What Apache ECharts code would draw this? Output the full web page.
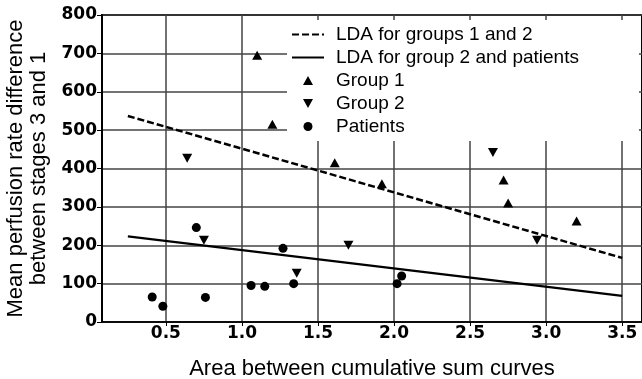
<!DOCTYPE html>
<html>
<head>
<meta charset="utf-8">
<script src="https://cdn.jsdelivr.net/npm/echarts@6/dist/echarts.min.js"></script>
<style>
html, body { margin: 0; padding: 0; background: #fff; }
#chart { width: 642px; height: 379px; }
</style>
</head>
<body>
<div id="chart"></div>
<script>
var xTicks = [0.5, 1.0, 1.5, 2.0, 2.5, 3.0, 3.5];
var ldaGroups12 = [[0.25, 537], [3.5, 167]];
var ldaGroup2Patients = [[0.25, 223], [3.5, 68]];
var group1 = [[1.10, 695], [1.20, 515], [1.61, 415], [1.92, 360], [2.72, 370], [2.75, 310], [3.20, 263]];
var group2 = [[0.64, 427], [0.75, 213], [1.36, 127], [1.70, 200], [2.65, 442], [2.94, 213]];
var patients = [[0.41, 65], [0.48, 41], [0.70, 246], [0.76, 64], [1.06, 95], [1.15, 93], [1.27, 192], [1.34, 100], [2.02, 100], [2.05, 120]];

var upTri = 'path://M5,0L10,9L0,9Z';
var downTri = 'path://M0,0L10,0L5,9Z';

var myChart = echarts.init(document.getElementById('chart'));

var option = {
    animation: false,
    grid: {
        left: 102,
        right: 0,
        top: 15,
        bottom: 57,
        outerBoundsMode: 'none',
        show: true,
        borderColor: '#000',
        borderWidth: 2
    },
    legend: {
        orient: 'vertical',
        left: 287,
        top: 20,
        padding: [5, 60, 5, 4],
        backgroundColor: '#fff',
        itemWidth: 32,
        itemHeight: 9,
        itemGap: 4,
        textStyle: {
            fontFamily: 'Liberation Sans',
            fontSize: 19,
            color: '#000',
            padding: [0, 0, 0, 7]
        },
        data: [
            {name: 'LDA for groups 1 and 2', itemStyle: {opacity: 0}},
            {name: 'LDA for group 2 and patients', itemStyle: {opacity: 0}},
            {name: 'Group 1', icon: upTri, itemStyle: {color: '#000'}},
            {name: 'Group 2', icon: downTri, itemStyle: {color: '#000'}},
            {name: 'Patients', icon: 'circle', itemStyle: {color: '#000'}}
        ]
    },
    xAxis: {
        type: 'value',
        min: 0.08,
        max: 3.63,
        name: 'Area between cumulative sum curves',
        nameLocation: 'middle',
        nameGap: 36,
        nameTextStyle: {fontFamily: 'Liberation Sans', fontSize: 22, color: '#000'},
        axisLine: {show: true, lineStyle: {color: '#000', width: 1.5}},
        axisTick: {show: true, length: 4, customValues: xTicks, lineStyle: {color: '#000'}},
        axisLabel: {
            customValues: xTicks,
            margin: 3,
            fontFamily: 'DejaVu Sans',
            fontWeight: 'bold',
            fontSize: 17,
            color: '#000',
            formatter: function (v) { return v.toFixed(1); }
        },
        splitLine: {show: true, lineStyle: {color: '#444', width: 1.5}}
    },
    yAxis: {
        type: 'value',
        min: 0,
        max: 800,
        interval: 100,
        name: 'Mean perfusion rate difference\nbetween stages 3 and 1',
        nameLocation: 'middle',
        nameRotate: 90,
        nameGap: 50,
        nameTextStyle: {fontFamily: 'Liberation Sans', fontSize: 22, color: '#000', lineHeight: 23},
        axisLine: {show: true, lineStyle: {color: '#000', width: 2}},
        axisTick: {show: true, length: 5, lineStyle: {color: '#000'}},
        axisLabel: {
            margin: 5,
            fontFamily: 'DejaVu Sans',
            fontWeight: 'bold',
            fontSize: 17,
            color: '#000'
        },
        splitLine: {show: true, lineStyle: {color: '#444', width: 1.5}}
    },
    series: [
        {
            name: 'LDA for groups 1 and 2',
            type: 'line',
            data: ldaGroups12,
            symbol: 'none',
            lineStyle: {color: '#000', width: 2.5, type: [7, 3]},
            itemStyle: {color: '#000'}
        },
        {
            name: 'LDA for group 2 and patients',
            type: 'line',
            data: ldaGroup2Patients,
            symbol: 'none',
            lineStyle: {color: '#000', width: 2.2},
            itemStyle: {color: '#000'}
        },
        {
            name: 'Group 1',
            type: 'scatter',
            data: group1,
            symbol: upTri,
            symbolSize: [10, 9],
            itemStyle: {color: '#000', opacity: 1}
        },
        {
            name: 'Group 2',
            type: 'scatter',
            data: group2,
            symbol: downTri,
            symbolSize: [10, 9],
            itemStyle: {color: '#000', opacity: 1}
        },
        {
            name: 'Patients',
            type: 'scatter',
            data: patients,
            symbol: 'circle',
            symbolSize: 9,
            itemStyle: {color: '#000', opacity: 1}
        }
    ]
};

if (option && typeof option === 'object') {
    myChart.setOption(option);
}
</script>
</body>
</html>
